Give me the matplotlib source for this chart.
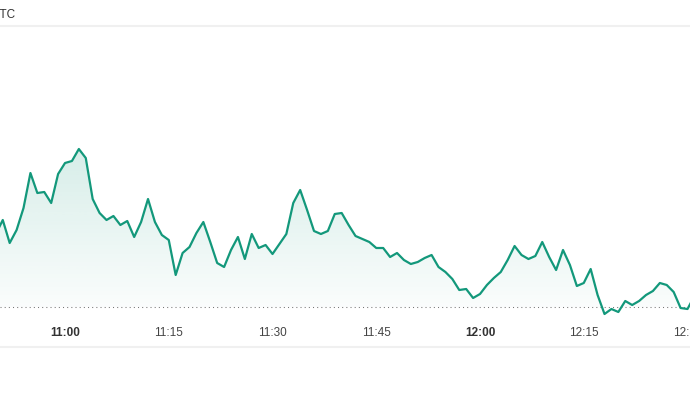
import numpy as np
import matplotlib
matplotlib.use("Agg")
import matplotlib.pyplot as plt
from matplotlib.patches import Polygon
from matplotlib.transforms import blended_transform_factory

# minutes relative to 11:00, one point per minute
minutes = np.arange(-10, 92)
# height of the price line above the dotted reference line
level = [73, 87, 64, 77, 99, 134, 114, 115, 104, 133,
         144, 146, 158, 149, 108, 94, 87, 91, 82, 86,
         70, 85, 108, 85, 72, 67, 32, 54, 60, 74,
         85, 65, 44, 40, 57, 70, 48, 73, 59, 62,
         53, 63, 73, 104, 117, 97, 76, 73, 76, 93,
         94, 82, 71, 68, 65, 59, 59, 50, 54, 47,
         43, 45, 49, 52, 40, 35, 28, 17, 18, 9,
         13, 22, 29, 35, 47, 61, 52, 48, 51, 65,
         50, 37, 57, 42, 21, 24, 38, 12, -7, -2,
         -5, 6, 2, 6, 12, 16, 24, 22, 15, -1,
         -2, 11]
tick_pos = [0, 15, 30, 45, 60, 75, 90]
tick_labels = ["11:00", "11:15", "11:30", "11:45", "12:00", "12:15", "12:30"]
tick_bold = [True, False, False, False, True, False, False]

line_color = "#13987b"
plt.rcParams['font.family'] = ['Liberation Sans', 'DejaVu Sans']

fig = plt.figure(figsize=(6.9, 4.07), dpi=100)
ax = fig.add_axes([0, 60 / 407, 1, 321 / 407])
ax.set_xlim(-9.4, 90.36)
ax.set_ylim(-40, 281)

# gradient fill under the line, clipped to the area between line and reference
verts = list(zip(minutes, level)) + [(minutes[-1], 0), (minutes[0], 0)]
poly = Polygon(verts, closed=True, facecolor="none", edgecolor="none")
ax.add_patch(poly)
top = max(level)
grad = np.linspace(0.02, 0.17, 256).reshape(-1, 1)
rgba = np.zeros((256, 1, 4))
rgba[..., :3] = matplotlib.colors.to_rgb(line_color)
rgba[..., 3] = grad
img = ax.imshow(rgba, extent=[minutes[0], minutes[-1], 0, top], origin="lower",
                aspect="auto", zorder=1)
img.set_clip_path(poly)

ax.axhline(0, color="#777777", lw=0.75, ls=(0, (1, 3)), zorder=2)
ax.plot(minutes, level, color=line_color, lw=1.6, zorder=3)

ax.set_xticks([])
ax.set_yticks([])
for side in ["left", "right"]:
    ax.spines[side].set_visible(False)
for side in ["top", "bottom"]:
    ax.spines[side].set_color("#f0f0f0")
    ax.spines[side].set_linewidth(1.5)

trans = blended_transform_factory(ax.transData, ax.transAxes)
for pos, lab, bold in zip(tick_pos, tick_labels, tick_bold):
    ax.text(pos, 14 / 321, lab, transform=trans, ha="center", va="center",
            fontsize=8.5, color="#333333" if bold else "#444444",
            fontweight="bold" if bold else "normal")

fig.text(-9 / 690, 1 - 15 / 407, "UTC", ha="left", va="center",
         fontsize=8.5, color="#333333")

fig.savefig("out.png", dpi=100)
